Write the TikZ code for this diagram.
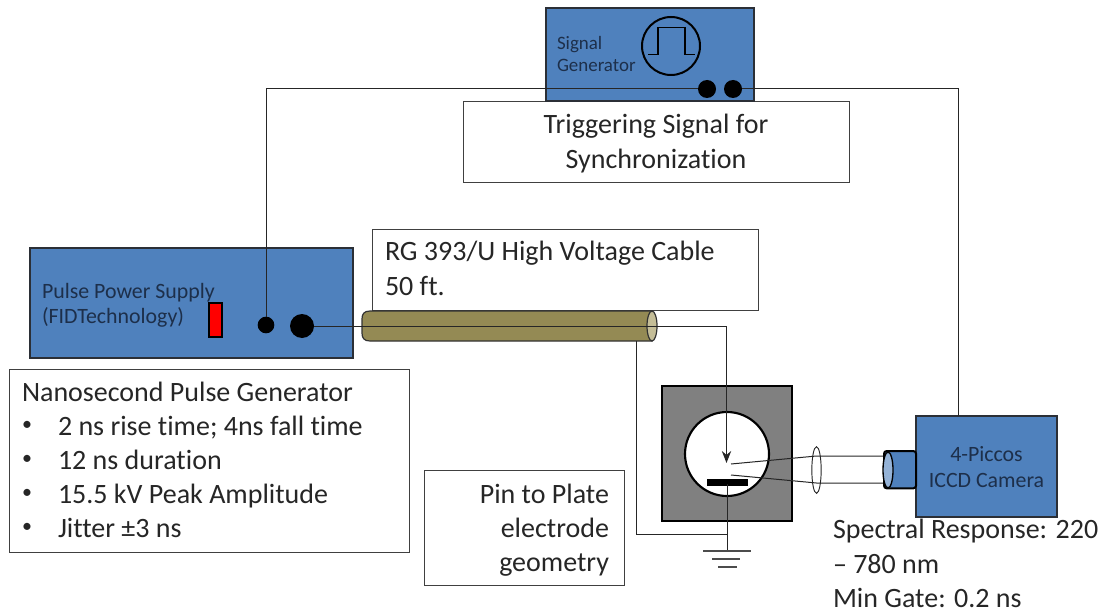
\documentclass[tikz,border=0pt]{standalone}
\usepackage{fontspec}
\setmainfont[Ligatures=NoCommon]{Carlito}
\usetikzlibrary{arrows.meta,shapes.geometric}
\definecolor{bluebox}{HTML}{4F81BD}
\definecolor{boxedge}{HTML}{2B2F36}
\definecolor{labelink}{HTML}{1D2F4A}
\definecolor{txt}{HTML}{262626}
\definecolor{olive}{HTML}{948A54}
\definecolor{olivel}{HTML}{C4BD97}
\definecolor{lensb}{HTML}{95B3D7}
\tikzset{
 rectbox/.style={draw=#1,inner sep=0pt,outer sep=0pt,anchor=north west},
 bluepanel/.style={rectbox=boxedge,fill=bluebox,line width=1.5pt},
 textpanel/.style={rectbox=black!75,fill=white,line width=0.75pt},
 wire/.style={draw=black!85,line width=0.75pt},
 dot/.style={circle,fill=black,inner sep=0pt,outer sep=0pt,minimum size=#1},
 biglabel/.style={font=\fontsize{21pt}{25pt}\selectfont,text=txt,inner sep=0pt,outer sep=0pt,anchor=base},
 bulletlabel/.style={font=\fontsize{15pt}{18pt}\selectfont,text=txt,inner sep=0pt,outer sep=0pt},
 smalllabel/.style={font=\fontsize{16.4pt}{20pt}\selectfont,text=labelink,inner sep=0pt,outer sep=0pt,anchor=base},
 siglabel/.style={font=\fontsize{14.2pt}{18pt}\selectfont,text=labelink,inner sep=0pt,outer sep=0pt,anchor=base west},
 gndbar/.style={draw=black!70,line width=1pt},
}
\begin{document}
\begin{tikzpicture}[x=0.75pt,y=-0.75pt]
\useasboundingbox (0,0) rectangle (1106,613);
% white panels
\node[textpanel,minimum width=289.5pt,minimum height=60.75pt] (trig) at (463,101.5) {};
\node[biglabel] (trig1) at (656,134) {Triggering Signal for};
\node[biglabel] (trig2) at (656,169) {Synchronization};
\node[textpanel,minimum width=289.5pt,minimum height=60.75pt] (rg) at (372,229) {};
\node[biglabel,anchor=base west] (rg1) at (385,260) {RG 393/U High Voltage Cable};
\node[biglabel,anchor=base west] (rg2) at (385,295) {50 ft.};
\node[textpanel,minimum width=300pt,minimum height=137.25pt] (nano) at (9,369) {};
\node[biglabel,anchor=base west] (n0) at (22,401) {Nanosecond Pulse Generator};
\foreach \n/\y/\t in {n1/435/2 ns rise time; 4ns fall time,n2/469/12 ns duration,n3/503/15.5 kV Peak Amplitude,n4/537/Jitter ±3 ns}{
  \node[bulletlabel] (\n b) at (27,\y-9) {•};
  \node[biglabel,anchor=base west] (\n) at (58,\y) {\t};
}
\node[textpanel,minimum width=150pt,minimum height=86.25pt] (pin) at (424,470) {};
\node[biglabel,anchor=base east] (p1) at (609,503) {Pin to Plate};
\node[biglabel,anchor=base east] (p2) at (609,537) {electrode};
\node[biglabel,anchor=base east] (p3) at (609,571) {geometry};
\node[biglabel,anchor=base west] (s1) at (833,538) {Spectral Response: 220};
\node[biglabel,anchor=base west] (s2) at (833,573) {– 780 nm};
\node[biglabel,anchor=base west] (s3) at (833,607) {Min Gate: 0.2 ns};
% signal generator
\node[bluepanel,minimum width=156pt,minimum height=69.75pt] (sig) at (546,8) {};
\node[circle,draw=black,line width=1.5pt,inner sep=0pt,minimum size=43.5pt] (wave) at (671,46) {};
\draw[black,line width=1.1pt] (648,54.5) -- (658,54.5) -- (658,27.5) -- (685,27.5) -- (685,54.5) -- (695,54.5);
\node[siglabel] (sg1) at (557,50) {Signal};
\node[siglabel] (sg2) at (557,72) {Generator};
\node[dot=13.5pt] (d1) at (707,89) {};
\node[dot=13.5pt] (d2) at (733,89) {};
% pulse supply
\node[bluepanel,minimum width=242.25pt,minimum height=82.5pt] (pps) at (30,248) {};
\node[smalllabel,anchor=base west] (pp1) at (42,298) {Pulse Power Supply};
\node[smalllabel,anchor=base west] (pp2) at (42,323) {(FIDTechnology)};
\node[rectbox=black,fill=red,line width=1.2pt,minimum width=9.75pt,minimum height=25.5pt] (red) at (209,303) {};
\node[dot=12.5pt] (d3) at (266,325) {};
\node[dot=18pt] (d4) at (302,326) {};
% camera
\node[bluepanel,minimum width=105.75pt,minimum height=75.75pt] (cam) at (916,416) {};
\node[smalllabel] (c1) at (986.5,461) {4-Piccos};
\node[smalllabel] (c2) at (986.5,487) {ICCD Camera};
% chamber
\node[rectbox=black,fill=black!50,line width=1.5pt,minimum width=97.5pt,minimum height=101.25pt] (ch) at (662,386) {};
\node[circle,draw=black,fill=white,line width=1.6pt,inner sep=0pt,minimum size=63pt] (win) at (727,454) {};
\node[rectbox=black,fill=black,line width=0pt,minimum width=30pt,minimum height=5pt] (plate) at (707,479) {};
% coordinates
\coordinate (c1a) at (266,89);
\coordinate (c1b) at (958,89);
\coordinate (tipb) at (726.5,463);
\coordinate (bendb) at (726.5,326);
\coordinate (jg) at (636,534);
\coordinate (jh) at (727,534);
\coordinate (gnd) at (727,551);
\coordinate (cabb) at (636,341);
\coordinate (platec) at (727,484);
\coordinate (ray1) at (731,464);
\coordinate (ray2) at (731,475);
% wires
\draw[wire] (d1) -- (c1a) -- (d3);
\draw[wire] (d2) -- (c1b) -- (cam.north -| c1b);
% cable
\path[fill=olive,draw=black!80,line width=0.9pt] (652,311) -- (370,311) .. controls (364,311) and (362,314) .. (362,319) -- (362,333) .. controls (362,338) and (364,341) .. (370,341) -- (652,341) -- cycle;
\node[ellipse,draw=black!80,fill=olivel,line width=0.9pt,inner sep=0pt,minimum width=7.5pt,minimum height=22.5pt] (cabend) at (652,326) {};
\draw[wire] (d4) -- (bendb);
\draw[wire,-{Stealth[length=9pt,width=7pt]},line width=1pt] (bendb) -- (tipb);
\draw[wire] (cabb) -- (jg) -- (jh);
\draw[wire] (platec) -- (gnd);
\draw[gndbar] (703,551) -- (751,551);
\draw[gndbar] (712,559) -- (740,559);
\draw[gndbar] (718,567) -- (737,567);
% optics
\node[ellipse,draw=black!85,line width=0.7pt,inner sep=0pt,minimum width=7pt,minimum height=35pt] (lens) at (816.5,470) {};
\draw[wire] (ray1) -- (lens.center |- 0,456) -- (885,456);
\draw[wire] (ray2) -- (lens.center |- 0,483) -- (885,483);
\node[rectbox=black,fill=bluebox,line width=1.5pt,minimum width=24pt,minimum height=28pt,rounded corners=2pt] (tube) at (884,451) {};
\node[ellipse,draw=black,fill=lensb,line width=1pt,inner sep=0pt,minimum width=7.5pt,minimum height=27pt] (tubeend) at (888,470) {};
\end{tikzpicture}
\end{document}
